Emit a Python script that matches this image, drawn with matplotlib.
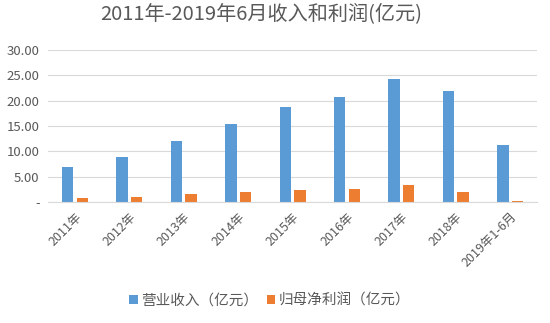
import matplotlib.pyplot as plt
import numpy as np

plt.rcParams['font.family'] = ['Noto Sans CJK SC', 'DejaVu Sans']

# 数据（亿元）
categories = ["2011年", "2012年", "2013年", "2014年", "2015年",
              "2016年", "2017年", "2018年", "2019年1-6月"]
revenue = [6.9, 8.9, 12.1, 15.4, 18.8, 20.8, 24.2, 22.0, 11.3]
profit = [0.8, 1.0, 1.6, 2.0, 2.4, 2.6, 3.4, 2.0, 0.2]
yticks = [0, 5, 10, 15, 20, 25, 30]
ytick_labels = ["-", "5.00", "10.00", "15.00", "20.00", "25.00", "30.00"]

blue = "#5B9BD5"
orange = "#ED7D31"
gray = "#595959"

fig = plt.figure(figsize=(5.5, 3.23), dpi=100)
ax = fig.add_axes([0.087, 0.375, 0.89, 0.47])

x = np.arange(len(categories))
w = 0.21
ax.bar(x - 0.135, revenue, width=w, color=blue, label="营业收入（亿元）")
ax.bar(x + 0.135, profit, width=w, color=orange, label="归母净利润（亿元）")

ax.set_xlim(-0.5, len(categories) - 0.5)
ax.set_ylim(0, 30)
ax.set_yticks(yticks)
ax.set_yticklabels(ytick_labels, color=gray, fontsize=9.5)
ax.set_xticks(x)
ax.set_xticklabels(categories, rotation=45, ha="right", rotation_mode="anchor",
                   color=gray, fontsize=9)
ax.tick_params(length=0, pad=6)

ax.grid(axis="y", color="#D9D9D9", linewidth=0.8)
ax.set_axisbelow(True)
for s in ["top", "right", "left"]:
    ax.spines[s].set_visible(False)
ax.spines["bottom"].set_color("#D9D9D9")

fig.suptitle("2011年-2019年6月收入和利润(亿元)", x=0.475, y=0.99,
             fontsize=14.5, color=gray)

fig.legend(loc="center", bbox_to_anchor=(0.49, 0.07), ncol=2, frameon=False,
           fontsize=10.5, handlelength=0.6, handleheight=0.6, columnspacing=0.6,
           handletextpad=0.2, labelcolor=gray)

fig.savefig("out.png", dpi=100)
